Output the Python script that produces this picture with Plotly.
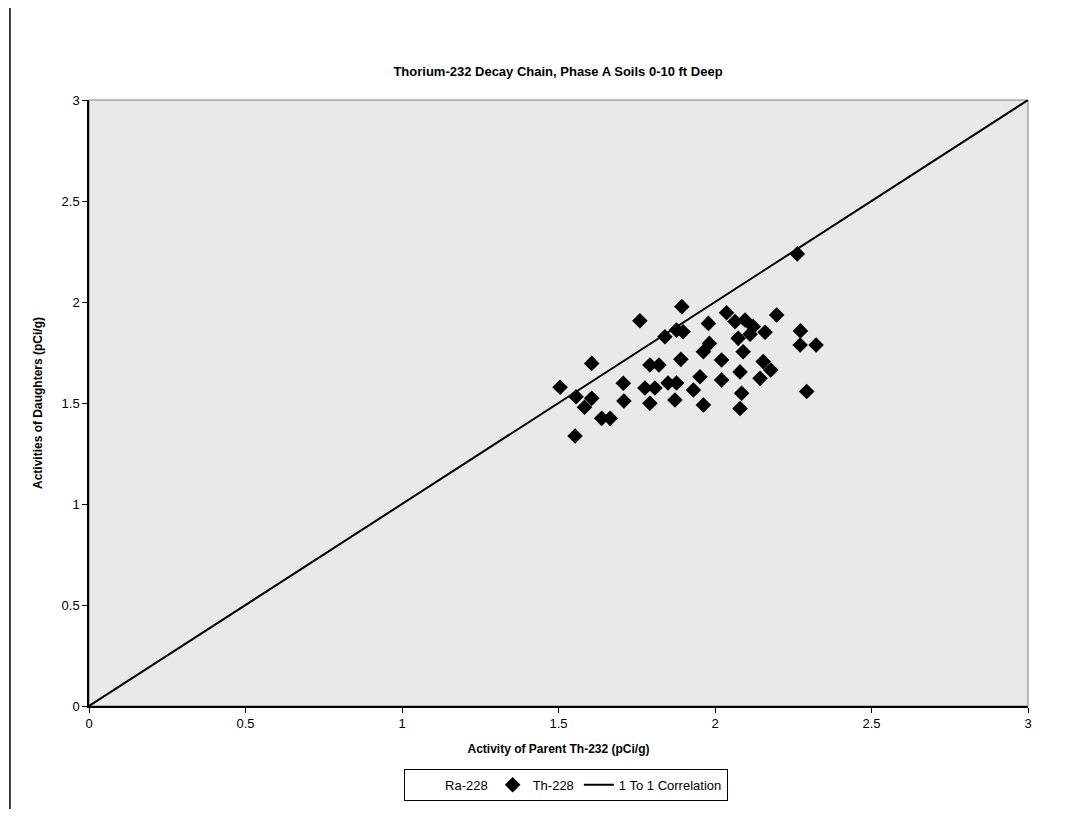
import plotly.graph_objects as go

# Th-228 activities (daughter) vs. parent Th-232, pCi/g
th232 = [1.505, 1.553, 1.556, 1.583, 1.606, 1.606, 1.638, 1.665, 1.707, 1.709,
         1.760, 1.776, 1.808, 1.792, 1.792, 1.821, 1.840, 1.877, 1.898, 1.894,
         1.891, 1.877, 1.850, 1.872, 1.931, 1.952, 1.963, 1.963, 1.982, 1.979,
         2.021, 2.021, 2.037, 2.064, 2.074, 2.080, 2.085, 2.080, 2.090, 2.096,
         2.112, 2.122, 2.144, 2.154, 2.160, 2.178, 2.197, 2.263, 2.273, 2.272,
         2.323, 2.293]
th228 = [1.578, 1.337, 1.531, 1.479, 1.696, 1.523, 1.424, 1.424, 1.598, 1.510,
         1.907, 1.574, 1.574, 1.499, 1.688, 1.688, 1.828, 1.861, 1.853, 1.977,
         1.716, 1.599, 1.599, 1.515, 1.564, 1.630, 1.754, 1.490, 1.795, 1.894,
         1.713, 1.614, 1.947, 1.903, 1.820, 1.654, 1.548, 1.473, 1.754, 1.911,
         1.840, 1.878, 1.622, 1.705, 1.850, 1.663, 1.936, 2.238, 1.857, 1.787,
         1.787, 1.557]

# 1 to 1 correlation line
ref_x = [0, 3]
ref_y = [0, 3]

x_ticks = [0, 0.5, 1, 1.5, 2, 2.5, 3]
x_tick_text = ["0", "0.5", "1", "1.5", "2", "2.5", "3"]
y_ticks = [0, 0.5, 1, 1.5, 2, 2.5, 3]
y_tick_text = ["0", "0.5", "1", "1.5", "2", "2.5", "3"]

font = "Liberation Sans, Arial, sans-serif"

fig = go.Figure()

# Ra-228 has no visible marker in the original legend
fig.add_trace(go.Scatter(
    x=[None], y=[None], mode="markers", name="Ra-228",
    marker=dict(size=8, color="rgba(0,0,0,0)"),
))
fig.add_trace(go.Scatter(
    x=th232, y=th228, mode="markers", name="Th-228",
    marker=dict(symbol="diamond", size=12, color="black"),
))
fig.add_trace(go.Scatter(
    x=ref_x, y=ref_y, mode="lines", name="1 To 1 Correlation",
    line=dict(color="black", width=2),
))

# page body has an 8px margin, so the figure is sized to fit inside it
fig.update_layout(
    width=1062, height=801,
    margin=dict(l=81, r=42, t=92, b=103, autoexpand=False),
    paper_bgcolor="white",
    plot_bgcolor="#e9e9e9",
    font=dict(family=font, size=13, color="black"),
    title=dict(
        text="<b>Thorium-232 Decay Chain, Phase A Soils 0-10 ft Deep</b>",
        x=(558 - 8) / 1062, xanchor="center", y=(801 - 63) / 801, yanchor="middle",
        font=dict(size=13),
    ),
    showlegend=True,
    legend=dict(
        orientation="h", x=0.508, xanchor="center", y=-0.13, yanchor="middle",
        bordercolor="black", borderwidth=1, bgcolor="white",
        font=dict(size=13), itemwidth=30, tracegroupgap=0,
    ),
    xaxis=dict(
        range=[0, 3], tickvals=x_ticks, ticktext=x_tick_text,
        showgrid=False, zeroline=False,
        showline=True, linecolor="black", linewidth=1.5,
        ticks="outside", ticklen=5, tickcolor="black",
        title=dict(text="<b>Activity of Parent Th-232 (pCi/g)</b>", standoff=14,
                   font=dict(size=12)),
    ),
    yaxis=dict(
        range=[0, 3], tickvals=y_ticks, ticktext=y_tick_text,
        showgrid=False, zeroline=False,
        showline=True, linecolor="black", linewidth=1.5,
        ticks="outside", ticklen=5, tickcolor="black",
        title=dict(text="<b>Activities of Daughters (pCi/g)</b>", standoff=16,
                   font=dict(size=12)),
    ),
    shapes=[
        # light plot-area border (top / right)
        dict(type="rect", xref="paper", yref="paper", x0=0, y0=0, x1=1, y1=1,
             line=dict(color="#808080", width=1), layer="below"),
        # left edge of the outer chart frame
        dict(type="line", xref="paper", yref="paper",
             x0=-0.0842, y0=-0.2, x1=-0.0842, y1=1.2,
             line=dict(color="black", width=1.5)),
    ],
)

fig.write_html("out.html")
